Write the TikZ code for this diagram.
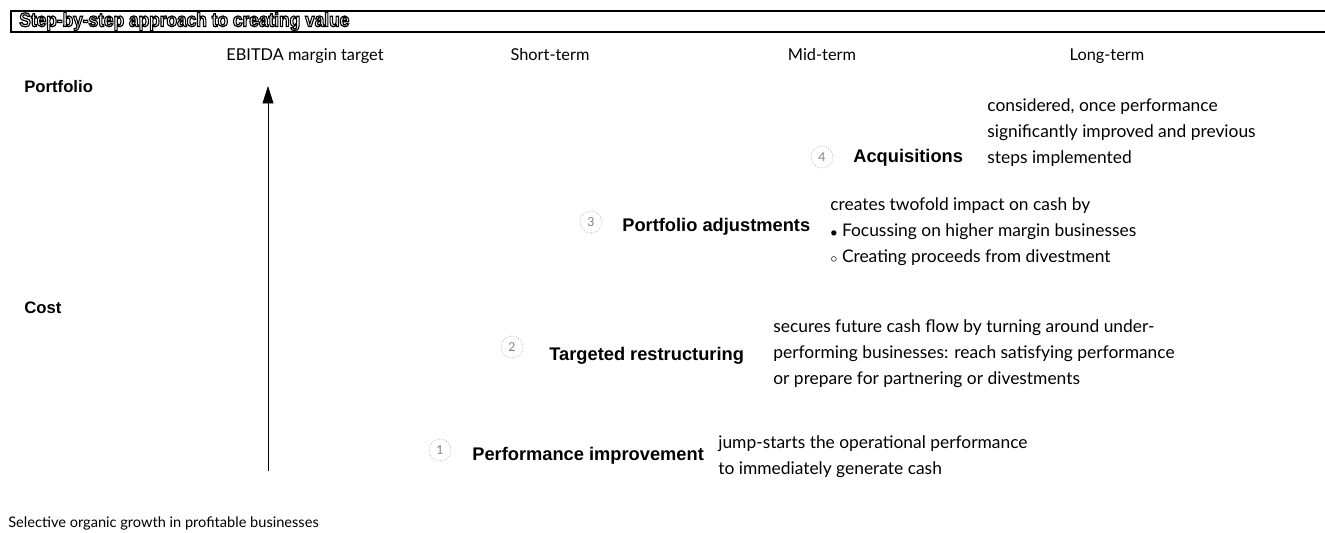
\documentclass[tikz,border=0pt]{standalone}
\usepackage{fontspec}
\setmainfont{Lato}
\setsansfont{Liberation Sans}
\usetikzlibrary{arrows.meta,positioning}

\tikzset{
  head/.style={anchor=base,font=\fontsize{9.3}{12}\selectfont},
  rowlabel/.style={anchor=base west,inner sep=0pt,font=\sffamily\bfseries\fontsize{9.5}{12}\selectfont},
  stepnum/.style={circle,draw=black!35,densely dotted,inner sep=0pt,minimum size=0.44cm,text=black!50,font=\fontsize{7}{8}\selectfont},
  steplabel/.style={anchor=west,inner sep=0pt,font=\sffamily\bfseries\fontsize{10.4}{12}\selectfont},
  stepdesc/.style={anchor=north west,align=left,inner sep=0pt,font=\fontsize{9.9}{14.8}\selectfont}
}

\begin{document}
\begin{tikzpicture}[x=0.02cm,y=-0.02cm]
	\useasboundingbox (0,0) rectangle (1325,533);

	% title bar
	\draw[line width=1.4pt] (1325,11) -- (11,11);
	\draw[line width=0.9pt] (11,10.5) -- (11,32) -- (1325,32);
	\node[anchor=west,inner sep=0pt,xscale=0.88,transform shape,font=\sffamily\bfseries\fontsize{11.2}{12}\selectfont] (title) at (19,21.5)
	  {{\color{white}\special{pdf:literal direct 0 G 2 Tr 0.7 w}Step-by-step approach to creating value\special{pdf:literal direct 0 Tr}}};

	% column heads
	\node[head] (hEbitda) at (305,61) {EBITDA margin target};
	\node[head] (hShort) at (550,61) {Short-term};
	\node[head] (hMid) at (822,61) {Mid-term};
	\node[head] (hLong) at (1107,61) {Long-term};

	\node[rowlabel] (portfolio) at (24,93) {Portfolio};
	\node[rowlabel] (cost) at (24,314) {Cost};

	% axis
	\coordinate (axbot) at (268,471);
	\coordinate (axtop) at (268,86);
	\draw[-{Triangle[length=3.5mm,width=2.2mm]},thin] (axbot) -- (axtop);

	\node[anchor=base west,inner sep=0pt,font=\fontsize{8.3}{12}\selectfont] (organic) at (8,527)
	  {Selective organic growth in profitable businesses};

	% steps
	\node[stepnum] (s4) at (822,157) {4};
	\node[steplabel] (l4) at (853,158) {Acquisitions};
	\node[stepdesc] (d4) at (987,98) {considered, once performance\\significantly improved and previous\\steps implemented};

	\node[stepnum] (s3) at (591,222) {3};
	\node[steplabel] (l3) at (622,227) {Portfolio adjustments};
	\node[stepdesc] (d3) at (830,197) {creates twofold impact on cash by\\{\scriptsize$\bullet$} Focussing on higher margin businesses\\{\scriptsize$\circ$} Creating proceeds from divestment};

	\node[stepnum] (s2) at (512,347) {2};
	\node[steplabel] (l2) at (549,356) {Targeted restructuring};
	\node[stepdesc] (d2) at (773,319) {secures future cash flow by turning around under-\\performing businesses: reach satisfying performance\\or prepare for partnering or divestments};

	\node[stepnum] (s1) at (440,450) {1};
	\node[steplabel] (l1) at (472,456) {Performance improvement};
	\node[stepdesc] (d1) at (718,435) {jump-starts the operational performance\\to immediately generate cash};
\end{tikzpicture}
\end{document}
